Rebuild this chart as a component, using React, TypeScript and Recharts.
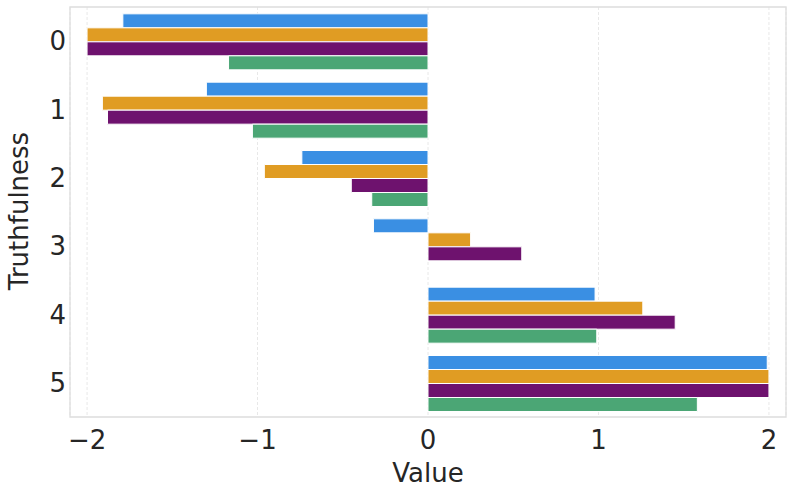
import React from 'react';
import { BarChart, Bar, XAxis, YAxis, CartesianGrid, ReferenceArea, Label } from 'recharts';

// truthfulness levels shown on the y axis
const categories = ['0', '1', '2', '3', '4', '5'];

// one value per level for each of the four series
const blueValues = [-1.79, -1.3, -0.74, -0.32, 0.98, 1.99];
const orangeValues = [-2.0, -1.91, -0.96, 0.25, 1.26, 2.0];
const purpleValues = [-2.0, -1.88, -0.45, 0.55, 1.45, 2.0];
const greenValues = [-1.17, -1.03, -0.33, 0, 0.99, 1.58];

const xTicks = [-2, -1, 0, 1, 2];

const chartData = categories.map((cat, i) => ({
  cat,
  blue: blueValues[i],
  orange: orangeValues[i],
  purple: purpleValues[i],
  green: greenValues[i],
}));

const FONT = 'DejaVu Sans, sans-serif';
const TEXT = '#262626';

const fmt = (v: number) => (v < 0 ? `\u2212${Math.abs(v)}` : `${v}`);

const App: React.FC = () => {
  return (
    <div style={{ position: 'absolute', left: 0, top: 0, width: 793, height: 496, background: '#fff' }}>
      <BarChart
        width={793}
        height={496}
        data={chartData}
        layout="vertical"
        margin={{ top: 7, right: 7, left: 0, bottom: 0 }}
        barCategoryGap="10%"
        barGap={0}
      >
        <CartesianGrid horizontal={false} stroke="#e8e8e8" strokeDasharray="3 2" />
        <XAxis
          type="number"
          domain={[-2.1, 2.1]}
          ticks={xTicks}
          tickFormatter={fmt}
          axisLine={false}
          tickLine={false}
          tickSize={0}
          tickMargin={14}
          height={79}
          tick={{ fontSize: 26, fill: TEXT, fontFamily: FONT }}
        >
          <Label
            content={() => (
              <text x={428} y={482} textAnchor="middle" fontSize={26} fill={TEXT} fontFamily={FONT}>
                Value
              </text>
            )}
          />
        </XAxis>
        <YAxis
          type="category"
          dataKey="cat"
          width={70}
          axisLine={false}
          tickLine={false}
          tickSize={0}
          tickMargin={4}
          tick={{ fontSize: 26, fill: TEXT, fontFamily: FONT }}
        >
          <Label
            content={() => (
              <text
                x={0}
                y={0}
                transform="translate(28,211) rotate(-90)"
                textAnchor="middle"
                fontSize={26}
                fill={TEXT}
                fontFamily={FONT}
              >
                Truthfulness
              </text>
            )}
          />
        </YAxis>
        <Bar dataKey="blue" fill="#3a8fe3" stroke="#ffffff" strokeWidth={1} isAnimationActive={false} />
        <Bar dataKey="orange" fill="#e09c23" stroke="#ffffff" strokeWidth={1} isAnimationActive={false} />
        <Bar dataKey="purple" fill="#6e126e" stroke="#ffffff" strokeWidth={1} isAnimationActive={false} />
        <Bar dataKey="green" fill="#4ba675" stroke="#ffffff" strokeWidth={1} isAnimationActive={false} />
        <ReferenceArea x1={-2.1} x2={2.1} fill="none" stroke="#dddddd" strokeWidth={1.3} ifOverflow="visible" />
      </BarChart>
    </div>
  );
};

export default App;
